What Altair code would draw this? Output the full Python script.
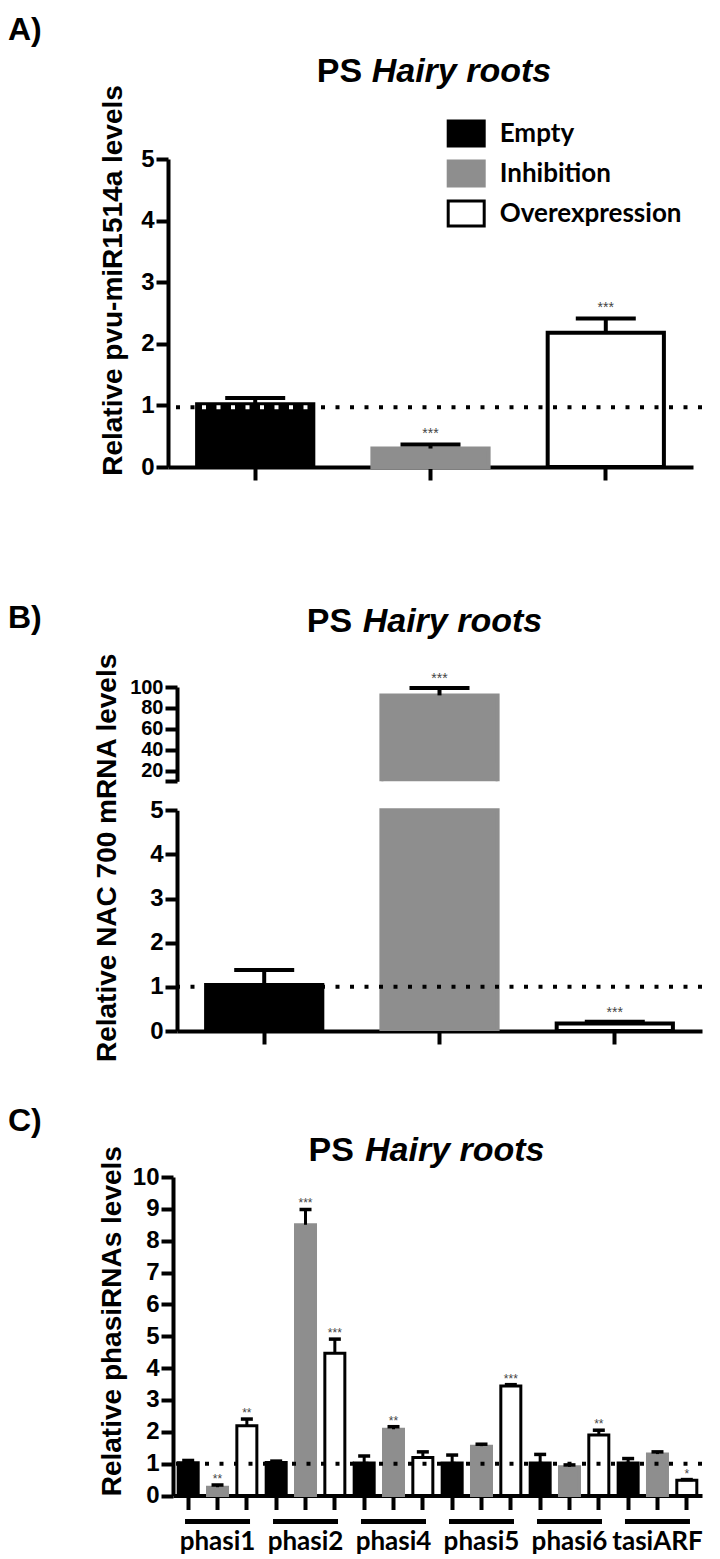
import altair as alt
import pandas as pd

# ---------------- data ----------------
series = ["Empty", "Inhibition", "Overexpression"]
fill_colors = ["#000000", "#8e8e8e", "#ffffff"]
stroke_colors = ["#000000", "#8e8e8e", "#000000"]

# Panel A: pvu-miR1514a
a_val = [1.02, 0.30, 2.18]
a_err = [1.12, 0.365, 2.41]
a_sig = ["", "***", "***"]

# Panel B: NAC 700 mRNA
b_val = [1.04, 92.0, 0.17]
b_err = [1.38, 99.0, 0.21]
b_sig = ["", "***", "***"]

# Panel C: phasiRNAs
c_groups = ["phasi1", "phasi2", "phasi4", "phasi5", "phasi6", "tasiARF"]
c_empty = [1.03, 1.04, 1.02, 1.02, 1.02, 1.02]
c_empty_err = [1.10, 1.08, 1.24, 1.27, 1.29, 1.16]
c_inh = [0.26, 8.50, 2.08, 1.55, 0.90, 1.30]
c_inh_err = [0.33, 8.98, 2.16, 1.61, 0.96, 1.37]
c_over = [2.19, 4.47, 1.19, 3.44, 1.90, 0.48]
c_over_err = [2.40, 4.91, 1.37, 3.48, 2.05, 0.50]
c_empty_sig = ["", "", "", "", "", ""]
c_inh_sig = ["**", "***", "**", "", "", ""]
c_over_sig = ["**", "***", "", "***", "**", "*"]

FONT = "Liberation Sans"
LFONT = "Lato"
W = 529
TICK_LABEL = 24

one = pd.DataFrame({"k": [0]})
dfA = pd.DataFrame({"series": series, "val": a_val, "err": a_err, "sig": a_sig})
dfB = pd.DataFrame({"series": series, "val": b_val, "err": b_err, "sig": b_sig})

rows = []
for i, g in enumerate(c_groups):
    for s, v, e, sg in [
        ("Empty", c_empty[i], c_empty_err[i], c_empty_sig[i]),
        ("Inhibition", c_inh[i], c_inh_err[i], c_inh_sig[i]),
        ("Overexpression", c_over[i], c_over_err[i], c_over_sig[i]),
    ]:
        rows.append({"group": g, "series": s, "slot": f"{g}_{s[0]}", "val": v, "err": e, "sig": sg})
dfC = pd.DataFrame(rows)
slots = list(dfC["slot"])


def legend():
    return alt.Legend(
        title=None, orient="none", legendX=273.7, legendY=-45,
        symbolType="M-1,-0.69L1,-0.69L1,0.69L-1,0.69Z", symbolSize=1296,
        symbolStrokeWidth=3, labelFont=LFONT, labelFontSize=26,
        labelFontWeight="bold", labelColor="black", labelOffset=14,
        rowPadding=2, padding=0, labelLimit=300,
    )


def color_enc():
    return dict(
        fill=alt.Fill("series:N", scale=alt.Scale(domain=series, range=fill_colors), legend=legend()),
        stroke=alt.Stroke("series:N", scale=alt.Scale(domain=series, range=stroke_colors), legend=legend()),
    )


def txt(t, x, y, size, italic=False):
    return alt.Chart(one).mark_text(
        text=t, align="left", baseline="middle", font=FONT, fontSize=size,
        fontWeight="bold", fontStyle="italic" if italic else "normal", color="black",
    ).encode(x=alt.value(x), y=alt.value(y))


def headers(letter, ly, px, hx, ty):
    return [txt(letter, -165, ly, 32), txt("PS", px, ty, 34), txt("Hairy roots", hx, ty, 34, italic=True)]


# ---------------- Panel A ----------------
A_H = 308
xA_scale = alt.Scale(range=[-5, 520], paddingInner=0.337, paddingOuter=0.166)
xA = alt.X("series:N", sort=series, scale=xA_scale,
           axis=alt.Axis(labels=False, title=None, tickSize=13))
xA_plain = alt.X("series:N", sort=series)
yA_scale = alt.Scale(domain=[0, 5], nice=False)
yA_axis = alt.Axis(values=[0, 1, 2, 3, 4, 5], title="Relative pvu-miR1514a levels",
                   titleX=-55, titleY=121, titleBaseline="middle", offset=5,
                   labelFontSize=TICK_LABEL, tickSize=12, labelPadding=2, format="d")

barsA = alt.Chart(dfA).mark_bar(strokeWidth=4).encode(
    x=xA, y=alt.Y("val:Q", scale=yA_scale, axis=yA_axis), **color_enc())
dotA = alt.Chart(one).mark_rule(color="black", strokeWidth=4, strokeDash=[4, 10.5]).encode(
    y=alt.datum(0.97))
dotAw = alt.Chart(dfA).transform_filter("datum.series == 'Empty'").mark_rule(
    color="white", strokeWidth=4, strokeDash=[4, 10.5], strokeDashOffset=9.6).encode(
    x=alt.X("series:N", sort=series, bandPosition=0),
    x2=alt.X2("series", bandPosition=1),
    y=alt.datum(0.97))
stemA = alt.Chart(dfA).mark_rule(color="black", strokeWidth=4).encode(
    x=xA_plain, y="val:Q", y2="err:Q")
capA = alt.Chart(dfA).mark_tick(orient="horizontal", color="black", size=60, thickness=4,
                                opacity=1).encode(x=xA_plain, y="err:Q")
starA = alt.Chart(dfA).mark_text(font=FONT, fontSize=14, color="#444", dy=-7,
                                 baseline="alphabetic").encode(x=xA_plain, y="err:Q", text="sig:N")

panelA = alt.layer(barsA, dotA, dotAw, stemA, capA, starA,
                   *headers("A)", -129, 143.7, 198.7, -87.3)).properties(width=W, height=A_H)

# ---------------- Panel B (upper, broken axis) ----------------
BU_H = 314.3
xBU = alt.X("series:N", sort=series,
            scale=alt.Scale(range=[4, 529], paddingInner=0.337, paddingOuter=0.166), axis=None)
xB_plain = alt.X("series:N", sort=series)
yBU_scale = alt.Scale(domain=[10, 100], range=[BU_H, 220], nice=False, zero=False)
yBU_axis = alt.Axis(values=[10, 20, 40, 60, 80, 100],
                    labelExpr="datum.value == 10 ? '' : datum.label",
                    labelOverlap=False,
                    title=None, offset=-4, labelFontSize=20, tickSize=12, labelPadding=2)
barsBU = alt.Chart(dfB).mark_bar(strokeWidth=4, clip=True).encode(
    x=xBU, y=alt.Y("val:Q", scale=yBU_scale, axis=yBU_axis), **color_enc())
stemBU = alt.Chart(dfB).mark_rule(color="black", strokeWidth=4, clip=True).encode(
    x=xB_plain, y="val:Q", y2="err:Q")
capBU = alt.Chart(dfB).mark_tick(orient="horizontal", color="black", size=60, thickness=4,
                                 opacity=1, clip=True).encode(x=xB_plain, y="err:Q")
starBU = alt.Chart(dfB).transform_filter("datum.err > 10").mark_text(
    font=FONT, fontSize=14, color="#444", dy=-5, baseline="alphabetic").encode(
    x=xB_plain, y="err:Q", text="sig:N")
panelBU = alt.layer(barsBU, stemBU, capBU, starBU,
                    *headers("B)", 151, 133.7, 189.7, 154.7)).properties(width=W, height=BU_H)

# ---------------- Panel B (lower) ----------------
BL_H = 249
xBL = alt.X("series:N", sort=series,
            scale=alt.Scale(range=[4, 529], paddingInner=0.337, paddingOuter=0.166),
            axis=alt.Axis(labels=False, title=None, tickSize=13))
yBL_scale = alt.Scale(domain=[0, 5], range=[BL_H, 28.3], nice=False)
yBL_axis = alt.Axis(values=[0, 1, 2, 3, 4, 5], title="Relative NAC 700 mRNA levels",
                    titleX=-70, titleY=75.4, titleBaseline="middle", offset=-4,
                    labelFontSize=TICK_LABEL, tickSize=12, labelPadding=2, format="d")
barsBL = alt.Chart(dfB).transform_calculate(vlow="min(datum.val, 5)").mark_bar(
    strokeWidth=4, clip=True).encode(
    x=xBL, y=alt.Y("vlow:Q", scale=yBL_scale, axis=yBL_axis), **color_enc())
dotBL = alt.Chart(one).mark_rule(color="black", strokeWidth=4, strokeDash=[4, 10.5]).encode(
    y=alt.datum(1.0))
stemBL = alt.Chart(dfB).mark_rule(color="black", strokeWidth=4, clip=True).encode(
    x=xB_plain, y="val:Q", y2="err:Q")
capBL = alt.Chart(dfB).mark_tick(orient="horizontal", color="black", size=60, thickness=4,
                                 opacity=1, clip=True).encode(x=xB_plain, y="err:Q")
starBL = alt.Chart(dfB).transform_filter("datum.err <= 5").mark_text(
    font=FONT, fontSize=14, color="#444", dy=-5, baseline="alphabetic").encode(
    x=xB_plain, y="err:Q", text="sig:N")
panelBL = alt.layer(barsBL, dotBL, stemBL, capBL, starBL).properties(width=W, height=BL_H)

# ---------------- Panel C ----------------
C_H = 464.5
xC = alt.X("slot:N", sort=slots,
           scale=alt.Scale(paddingInner=0.318, paddingOuter=0.177),
           axis=alt.Axis(title=None,
                         labelExpr="indexof(datum.label, '_I') > 0 ? substring(datum.label, 0, indexof(datum.label, '_I')) : ''",
                         labelFont=LFONT, labelFontSize=26, labelPadding=19, tickSize=14,
                         labelAngle=0, labelOverlap=False))
xC_plain = alt.X("slot:N", sort=slots)
yC_scale = alt.Scale(domain=[0, 10], range=[C_H, 146], nice=False)
yC_axis = alt.Axis(values=list(range(11)), title="Relative phasiRNAs  levels",
                   titleX=-61, titleY=289.7, titleBaseline="middle",
                   labelFontSize=TICK_LABEL, tickSize=12, labelPadding=2, format="d")
barsC = alt.Chart(dfC).mark_bar(strokeWidth=3).encode(
    x=xC, y=alt.Y("val:Q", scale=yC_scale, axis=yC_axis), **color_enc())
dotC = alt.Chart(one).mark_rule(color="black", strokeWidth=4, strokeDash=[4, 10.5]).encode(
    y=alt.datum(1.0))
stemC = alt.Chart(dfC).mark_rule(color="black", strokeWidth=3).encode(
    x=xC_plain, y="val:Q", y2="err:Q")
capC = alt.Chart(dfC).mark_tick(orient="horizontal", color="black", size=12, thickness=3.5,
                                opacity=1).encode(x=xC_plain, y="err:Q")
starC = alt.Chart(dfC).mark_text(font=FONT, fontSize=12, color="#444", dy=-2,
                                 baseline="alphabetic").encode(x=xC_plain, y="err:Q", text="sig:N")
ulineC = alt.Chart(dfC).transform_filter("datum.series == 'Inhibition'").mark_tick(
    orient="horizontal", size=65, thickness=5, color="black", opacity=1).encode(
    x=xC_plain, y=alt.value(C_H + 26))
panelC = alt.layer(barsC, dotC, stemC, capC, starC, ulineC,
                   *headers("C)", 89.7, 135.5, 192, 119.7)).properties(width=W, height=C_H)

chart = alt.vconcat(panelA, panelBU, panelBL, panelC, spacing=0, bounds="flush").properties(
    padding={"left": 0, "top": 6, "right": 0, "bottom": 0}
).configure_axis(
    domainColor="black", domainWidth=4, tickColor="black", tickWidth=4,
    labelColor="black", labelFont=FONT, labelFontWeight="bold",
    titleFont=FONT, titleFontWeight="bold", titleColor="black", titleFontSize=28,
    grid=False,
).configure_view(stroke=None)

chart.save("out.html", embed_options={"renderer": "svg", "actions": False})
